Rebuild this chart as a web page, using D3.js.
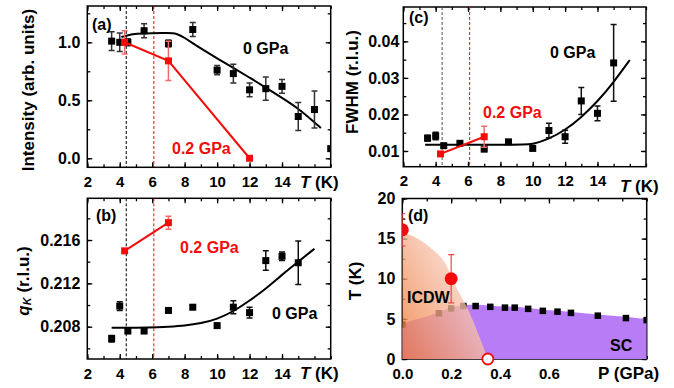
<html>
<head>
    <title>CDW under pressure</title>
    <style>
        body { margin: 0; background: #fff; }
        svg text { font-family: "Liberation Sans", Arial, Helvetica, sans-serif; font-weight: bold; }
    </style>
</head>
<body>
<script src="https://d3js.org/d3.v7.min.js"></script>
<script>
// ---- data ----
// (a) peak intensity vs T
var tempA = [3.5, 4, 4.5, 5.5, 7, 8.5, 10, 11, 12, 13, 14, 15, 16, 17];
var intA = [1.01, 1.0, 1.0, 1.1, 0.99, 1.11, 0.76, 0.73, 0.59, 0.6, 0.62, 0.36, 0.42, 0.083];
var intErrA = [0.08, 0.08, 0.03, 0.06, 0.03, 0.06, 0.04, 0.08, 0.06, 0.1, 0.06, 0.12, 0.16, 0];
var tempA2 = [4.3, 7, 12];
var intA2 = [1.0, 0.84, 0.0];
var intErrA2 = [0.1, 0.17, 0];
var fitAT = [4.1, 4.5, 5, 6, 7, 7.5, 8, 9, 10, 11, 12, 13, 14, 15, 16, 16.4];
var fitAI = [1.045, 1.062, 1.074, 1.08, 1.08, 1.078, 1.04, 0.945, 0.862, 0.78, 0.695, 0.61, 0.52, 0.43, 0.31, 0.26];

// (b) q_K vs T
var tempB = [3.5, 4, 4.5, 5.5, 7, 8.5, 10, 11, 12, 13, 14, 15];
var qB = [0.2069, 0.2099, 0.2076, 0.2076, 0.2095, 0.2098, 0.2081, 0.2098, 0.2093, 0.2141, 0.2145, 0.2139];
var qErrB = [0.0003, 0.0004, 0.0002, 0.0002, 0.0002, 0.0002, 0.0002, 0.0006, 0.0005, 0.0009, 0.0004, 0.002];
var tempB2 = [4.3, 7];
var qB2 = [0.215, 0.2176];
var qErrB2 = [0, 0.0006];
var fitBT = [3.5, 6, 7, 8, 9, 10, 11, 12, 13, 14, 15, 16];
var fitBQ = [0.2079, 0.2079, 0.2080, 0.2081, 0.2083, 0.2087, 0.2094, 0.2104, 0.2115, 0.2128, 0.2140, 0.2152];

// (c) FWHM vs T
var tempC = [3.5, 4, 4.5, 5.5, 7, 8.5, 10, 11, 12, 13, 14, 15];
var fwC = [0.0135, 0.0141, 0.01145, 0.0121, 0.0105, 0.0125, 0.0107, 0.0156, 0.0139, 0.0237, 0.0203, 0.0341];
var fwErrC = [0.0008, 0.001, 0.0005, 0.0004, 0.0004, 0.0005, 0.0005, 0.002, 0.0018, 0.0037, 0.002, 0.0105];
var tempC2 = [4.3, 7];
var fwC2 = [0.0092, 0.0139];
var fwErrC2 = [0.0004, 0.0029];
var fitCT = [3.35, 9.5, 10, 11, 12, 13, 14, 15, 16];
var fitCW = [0.0117, 0.0117, 0.0118, 0.0133, 0.0157, 0.0192, 0.0235, 0.0288, 0.0349];

// transition temperatures (dashed lines): 0 GPa, 0.2 GPa
var tcLines = [4.4, 6.1];

// (d) phase diagram
var pressSC = [0, 0.15, 0.2, 0.25, 0.30, 0.36, 0.42, 0.46, 0.515, 0.575, 0.635, 0.69, 0.80, 0.915, 1.0];
var tcSC = [4.3, 5.7, 6.3, 6.6, 6.6, 6.5, 6.4, 6.4, 6.25, 6.0, 5.9, 5.75, 5.4, 5.1, 4.85];
var scEdgeP = [0, 0.05, 0.1, 0.15, 0.2, 0.25, 0.30, 0.36, 0.42, 0.46, 0.515, 0.575, 0.635, 0.69, 0.80, 0.915, 1.0];
var scEdgeT = [4.4, 4.9, 5.3, 5.85, 6.4, 6.7, 6.75, 6.65, 6.55, 6.5, 6.35, 6.15, 6.0, 5.85, 5.55, 5.25, 4.95];
var pressCDW = [0, 0.2];
var tCDW = [16.1, 10];
var tErrCDW = [2, 3];
var pressOpen = [0.35];
var tOpen = [0];
var cdwEdgeP = [0, 0.05, 0.11, 0.18, 0.22, 0.27, 0.32, 0.35];
var cdwEdgeT = [15.8, 15.2, 14.0, 11.7, 9.0, 6.1, 2.4, 0];

// tick values
var ticksT = [2, 4, 6, 8, 10, 12, 14];
var minorT = d3.range(2, 17.01, 1);
var ticksI = [0.0, 0.5, 1.0];
var ticksQ = [0.208, 0.212, 0.216];
var ticksW = [0.01, 0.02, 0.03, 0.04];
var ticksP = [0.0, 0.2, 0.4, 0.6];
var ticksTc = [0, 5, 10, 15, 20];

var RED = '#f20c0c';

var svg = d3.select('body')
    .append('svg')
    .attr('width', 674)
    .attr('height', 388);
var defs = svg.append('defs');

function zip(xs, ys, es) {
    return xs.map(function(v, i) {
        return {x: v, y: ys[i], e: es ? es[i] : 0};
    });
}

// frame with inward ticks on all four sides
function makePanel(o) {
    var g = svg.append('g').attr('transform', 'translate(' + o.left + ',' + o.top + ')');
    var x = d3.scaleLinear().domain(o.xDomain).range([0, o.w]);
    var y = d3.scaleLinear().domain(o.yDomain).range([o.h, 0]);
    var axes = g.append('g').attr('class', 'axes');

    defs.append('clipPath').attr('id', 'clip-' + o.id)
        .append('rect').attr('width', o.w).attr('height', o.h);

    axes.append('g').attr('transform', 'translate(0,' + o.h + ')')
        .call(d3.axisBottom(x).tickValues(o.xMinor).tickSize(-3).tickFormat(''));
    axes.append('g').attr('class', 'xlab').attr('transform', 'translate(0,' + o.h + ')')
        .call(d3.axisBottom(x).tickValues(o.xMajor).tickSize(-5).tickPadding(9).tickFormat(o.xFmt));
    axes.append('g')
        .call(d3.axisTop(x).tickValues(o.xMinor).tickSize(-3).tickFormat(''));
    axes.append('g')
        .call(d3.axisTop(x).tickValues(o.xMajor).tickSize(-5).tickFormat(''));
    axes.append('g')
        .call(d3.axisLeft(y).tickValues(o.yMinor).tickSize(-3).tickFormat(''));
    axes.append('g').attr('class', 'ylab')
        .call(d3.axisLeft(y).tickValues(o.yMajor).tickSize(-5).tickPadding(o.yPad || 7).tickFormat(o.yFmt));
    axes.append('g').attr('transform', 'translate(' + o.w + ',0)')
        .call(d3.axisRight(y).tickValues(o.yMinor).tickSize(-3).tickFormat(''));
    axes.append('g').attr('transform', 'translate(' + o.w + ',0)')
        .call(d3.axisRight(y).tickValues(o.yMajor).tickSize(-5).tickFormat(''));

    axes.selectAll('.domain').remove();
    axes.selectAll('.tick line').attr('stroke', '#000').attr('stroke-width', 1.3);
    axes.selectAll('.tick text')
        .attr('fill', '#000')
        .style('font-family', '"Liberation Sans", Arial, sans-serif')
        .style('font-weight', 'bold');
    axes.selectAll('.xlab .tick text').style('font-size', '15px');
    axes.selectAll('.ylab .tick text').style('font-size', '16px');

    g.append('rect')
        .attr('class', 'frame')
        .attr('width', o.w)
        .attr('height', o.h)
        .attr('fill', 'none')
        .attr('stroke', '#000')
        .attr('stroke-width', 1.5);

    var data = g.append('g').attr('clip-path', 'url(#clip-' + o.id + ')');

    return {g: data, x: x, y: y, w: o.w, h: o.h};
}

function dashed(p, t, color) {
    p.g.append('line')
        .attr('x1', p.x(t)).attr('x2', p.x(t))
        .attr('y1', 0).attr('y2', p.h)
        .attr('stroke', color)
        .attr('stroke-width', 1)
        .attr('stroke-dasharray', '3,2');
}

function errorBars(p, data, color, width) {
    var eb = p.g.append('g').attr('stroke', color).attr('stroke-width', width || 1.5);
    data.filter(function(d) { return d.e > 0; }).forEach(function(d) {
        var cx = p.x(d.x), y1 = p.y(d.y - d.e), y2 = p.y(d.y + d.e);
        eb.append('line').attr('x1', cx).attr('x2', cx).attr('y1', y1).attr('y2', y2);
        eb.append('line').attr('x1', cx - 3).attr('x2', cx + 3).attr('y1', y1).attr('y2', y1);
        eb.append('line').attr('x1', cx - 3).attr('x2', cx + 3).attr('y1', y2).attr('y2', y2);
    });
}

function squares(p, data, color, size) {
    var s = size || 7;
    p.g.append('g')
        .selectAll('rect')
        .data(data)
        .enter()
        .append('rect')
        .attr('x', function(d) { return p.x(d.x) - s / 2; })
        .attr('y', function(d) { return p.y(d.y) - s / 2; })
        .attr('width', s)
        .attr('height', s)
        .attr('fill', color);
}

function curve(p, data, color, kind) {
    var line = d3.line()
        .x(function(d) { return p.x(d.x); })
        .y(function(d) { return p.y(d.y); })
        .curve(kind || d3.curveLinear);
    p.g.append('path')
        .datum(data)
        .attr('d', line)
        .attr('fill', 'none')
        .attr('stroke', color)
        .attr('stroke-width', 2);
}

function label(x, y, txt, color, size) {
    return svg.append('text')
        .attr('x', x)
        .attr('y', y)
        .attr('dominant-baseline', 'central')
        .attr('fill', color || '#000')
        .style('font-size', (size || 16) + 'px')
        .text(txt);
}

function yTitle(cx, cy, size) {
    return svg.append('text')
        .attr('transform', 'translate(' + cx + ',' + cy + ') rotate(-90)')
        .attr('text-anchor', 'middle')
        .attr('dominant-baseline', 'central')
        .style('font-size', size + 'px');
}

function tAxisTitle(x, y) {
    var t = label(x, y, '', '#000', 17);
    t.append('tspan').style('font-style', 'italic').text('T');
    t.append('tspan').text(' (K)');
}

var fmt1 = d3.format('.1f');

// ---- panel (a) ----
var pa = makePanel({
    id: 'a', left: 87.3, top: 6, w: 243.4, h: 161.3,
    xDomain: [2, 17], yDomain: [-0.078, 1.313],
    xMajor: ticksT, xMinor: minorT, xFmt: d3.format('d'),
    yMajor: ticksI, yMinor: d3.range(0, 1.3, 0.25), yFmt: fmt1
});
dashed(pa, tcLines[0], '#000');
dashed(pa, tcLines[1], RED);
curve(pa, zip(fitAT, fitAI), '#000', d3.curveBasis);
errorBars(pa, zip(tempA, intA, intErrA), '#333');
squares(pa, zip(tempA, intA), '#000');
errorBars(pa, zip(tempA2, intA2, intErrA2), '#f06a6a');
curve(pa, zip(tempA2, intA2), RED);
squares(pa, zip(tempA2, intA2), RED);
label(92, 24, '(a)');
label(243, 48, '0 GPa');
label(172, 148, '0.2 GPa', RED);
tAxisTitle(300, 182);
yTitle(28, 90, 17).text('Intensity (arb. units)');

// ---- panel (c) ----
var pc = makePanel({
    id: 'c', left: 403.3, top: 7, w: 242.7, h: 159.7,
    xDomain: [2, 17], yDomain: [0.0057, 0.0494],
    xMajor: ticksT, xMinor: minorT, xFmt: d3.format('d'),
    yMajor: ticksW, yMinor: d3.range(0.01, 0.0491, 0.005), yFmt: d3.format('.2f'), yPad: 4
});
dashed(pc, tcLines[0], '#555');
dashed(pc, tcLines[1], RED);
curve(pc, zip(fitCT, fitCW), '#000', d3.curveBasis);
errorBars(pc, zip(tempC, fwC, fwErrC), '#111');
squares(pc, zip(tempC, fwC), '#000');
errorBars(pc, zip(tempC2, fwC2, fwErrC2), '#f06a6a');
curve(pc, zip(tempC2, fwC2), RED);
squares(pc, zip(tempC2, fwC2), RED);
label(409, 17, '(c)');
label(550, 52, '0 GPa');
label(483, 112, '0.2 GPa', RED);
tAxisTitle(620, 186);
yTitle(352, 82, 17).text('FWHM (r.l.u.)');

// ---- panel (b) ----
var pb = makePanel({
    id: 'b', left: 87.3, top: 198.3, w: 243.4, h: 160.7,
    xDomain: [2, 17], yDomain: [0.20502, 0.21985],
    xMajor: ticksT, xMinor: minorT, xFmt: d3.format('d'),
    yMajor: ticksQ, yMinor: d3.range(0.206, 0.2195, 0.002), yFmt: d3.format('.3f')
});
dashed(pb, tcLines[0], '#000');
dashed(pb, tcLines[1], RED);
curve(pb, zip(fitBT, fitBQ), '#000', d3.curveBasis);
errorBars(pb, zip(tempB, qB, qErrB), '#111');
squares(pb, zip(tempB, qB), '#000');
errorBars(pb, zip(tempB2, qB2, qErrB2), '#f06a6a');
curve(pb, zip(tempB2, qB2), RED);
squares(pb, zip(tempB2, qB2), RED);
label(96, 215, '(b)');
label(180, 247, '0.2 GPa', RED);
label(272, 313, '0 GPa');
tAxisTitle(300, 373);
var qt = yTitle(23, 281, 17);
qt.append('tspan').style('font-style', 'italic').text('q');
qt.append('tspan').style('font-style', 'italic').style('font-size', '11px').attr('dy', 4).text('K');
qt.append('tspan').attr('dy', -4).text(' (r.l.u.)');

// ---- panel (d) ----
var pd = makePanel({
    id: 'd', left: 402.3, top: 198.5, w: 244.4, h: 160.5,
    xDomain: [0, 1.0], yDomain: [0, 20],
    xMajor: ticksP, xMinor: d3.range(0, 1.001, 0.1), xFmt: fmt1,
    yMajor: ticksTc, yMinor: d3.range(0, 20.1, 2.5), yFmt: d3.format('d')
});
var area = d3.area()
    .x(function(d) { return pd.x(d.x); })
    .y0(pd.y(0))
    .y1(function(d) { return pd.y(d.y); });

// superconducting dome
pd.g.append('path')
    .datum(zip(scEdgeP, scEdgeT))
    .attr('d', area.curve(d3.curveMonotoneX))
    .attr('fill', '#b77cf6');

squares(pd, zip(pressSC, tcSC), '#000', 6.5);

// ICDW region with gradient
var grad = defs.append('linearGradient')
    .attr('id', 'cdwGrad')
    .attr('x1', 0).attr('y1', 1)
    .attr('x2', 1).attr('y2', 0.15);
grad.append('stop').attr('offset', '0%').attr('stop-color', '#ee7630');
grad.append('stop').attr('offset', '55%').attr('stop-color', '#f5b89c');
grad.append('stop').attr('offset', '100%').attr('stop-color', '#fcf0f0');

pd.g.append('path')
    .datum(zip(cdwEdgeP, cdwEdgeT))
    .attr('d', area.curve(d3.curveMonotoneX))
    .attr('fill', 'url(#cdwGrad)')
    .attr('opacity', 0.78);

errorBars(pd, zip(pressCDW, tCDW, tErrCDW), '#f04848', 1.2);
pd.g.append('g')
    .selectAll('circle')
    .data(zip(pressCDW, tCDW))
    .enter()
    .append('circle')
    .attr('cx', function(d) { return pd.x(d.x); })
    .attr('cy', function(d) { return pd.y(d.y); })
    .attr('r', 6.5)
    .attr('fill', RED);

// open circle sits on the axis, draw it unclipped
svg.append('g')
    .attr('transform', 'translate(402.3,198.5)')
    .selectAll('circle')
    .data(zip(pressOpen, tOpen))
    .enter()
    .append('circle')
    .attr('cx', function(d) { return pd.x(d.x); })
    .attr('cy', function(d) { return pd.y(d.y); })
    .attr('r', 5.5)
    .attr('fill', '#fff')
    .attr('stroke', RED)
    .attr('stroke-width', 1.8);

label(408, 215, '(d)');
label(407, 297, 'ICDW');
label(610, 345, 'SC');
label(598, 373, 'P (GPa)', '#000', 17);
var tt = yTitle(355, 281, 17);
tt.text('T (K)');
</script>
</body>
</html>
